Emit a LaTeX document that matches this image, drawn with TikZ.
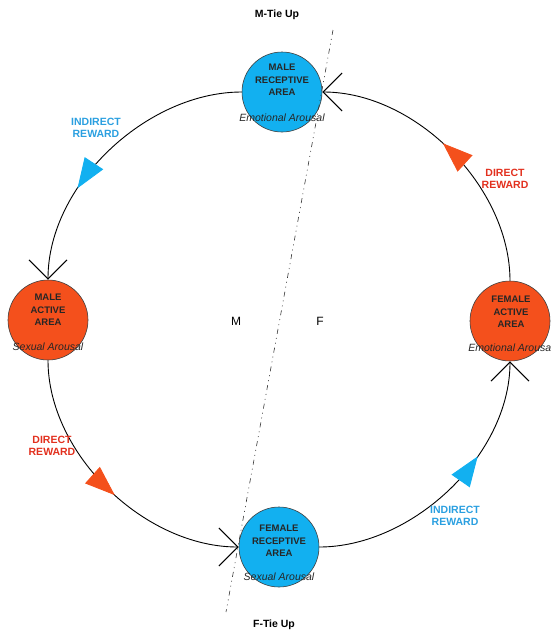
\documentclass[tikz,border=0pt]{standalone}
\usepackage{fontspec}
\setmainfont{Liberation Sans}
\usetikzlibrary{arrows.meta,decorations.markings}
\definecolor{cyanfill}{HTML}{12B0F0}
\definecolor{redfill}{HTML}{F4501C}
\definecolor{bluetext}{HTML}{2A9FE0}
\definecolor{redtext}{HTML}{E2301E}
\begin{document}
\begin{tikzpicture}[x=1pt,y=-1pt,
  area/.style={circle, draw=black!75, line width=0.6pt, minimum size=80pt, inner sep=0pt},
  recep/.style={area, fill=cyanfill},
  active/.style={area, fill=redfill},
  areatext/.style={align=center, font=\fontsize{9.5}{12.3}\selectfont\bfseries, text=black!85, inner sep=0pt},
  arousal/.style={font=\fontsize{10.5}{12}\selectfont\itshape, text=black!85, inner sep=0pt},
  reward/.style={align=center, font=\fontsize{10.5}{12}\selectfont\bfseries, inner sep=0pt},
  link/.style={line width=0.9pt, -{Straight Barb[length=19pt,width=38pt,line width=1.1pt]}, looseness=0.9},
  midtri/.style 2 args={postaction={decorate}, decoration={markings, mark=at position #1 with {\arrow{Triangle[length=30pt,width=22pt,color=#2]}}}},
  tie/.style={font=\fontsize{10.5}{12}\selectfont\bfseries, inner sep=0pt},
  side/.style={font=\fontsize{12}{14}\selectfont, inner sep=0pt},
  axis/.style={line width=0.6pt, black!80, dash pattern=on 5pt off 4pt on 1pt off 4pt on 1pt off 4pt}
]
\useasboundingbox (0,0) rectangle (551,632);

\node[recep] (mr) at (282,92) {};
\node[active] (ma) at (48,320) {};
\node[active] (fa) at (510,321) {};
\node[recep] (fr) at (279,547) {};

\draw[link, midtri={0.67}{cyanfill}] (mr) to[out=180,in=90] (ma);
\draw[link, midtri={0.53}{redfill}] (ma) to[out=270,in=180] (fr);
\draw[link, midtri={0.65}{cyanfill}] (fr) to[out=0,in=270] (fa);
\draw[link, midtri={0.54}{redfill}] (fa) to[out=90,in=0] (mr);

\node[areatext] (mrt) at (282,80) {MALE\\RECEPTIVE\\AREA};
\node[arousal] (mra) at (282,118) {Emotional Arousal};
\node[areatext] (mat) at (48,310) {MALE\\ACTIVE\\AREA};
\node[arousal] (maa) at (48,347) {Sexual Arousal};
\node[areatext] (fat) at (511,312) {FEMALE\\ACTIVE\\AREA};
\node[arousal] (faa) at (511,348) {Emotional Arousal};
\node[areatext] (frt) at (279,541) {FEMALE\\RECEPTIVE\\AREA};
\node[arousal] (fra) at (279,577) {Sexual Arousal};

\node[reward, text=bluetext] (ir1) at (96,128) {INDIRECT\\REWARD};
\node[reward, text=redtext] (dr1) at (505,179) {DIRECT\\REWARD};
\node[reward, text=redtext] (dr2) at (52,446) {DIRECT\\REWARD};
\node[reward, text=bluetext] (ir2) at (455,516) {INDIRECT\\REWARD};

\node[tie] (mtie) at (277,15) {M-Tie Up};
\node[tie] (ftie) at (274,625) {F-Tie Up};
\node[side] (mside) at (236,321) {M};
\node[side] (fside) at (320,321) {F};

\coordinate (dtop) at (333,30);
\coordinate (dbot) at (226,612);
\draw[axis] (dtop) -- (dbot);
\end{tikzpicture}
\end{document}
